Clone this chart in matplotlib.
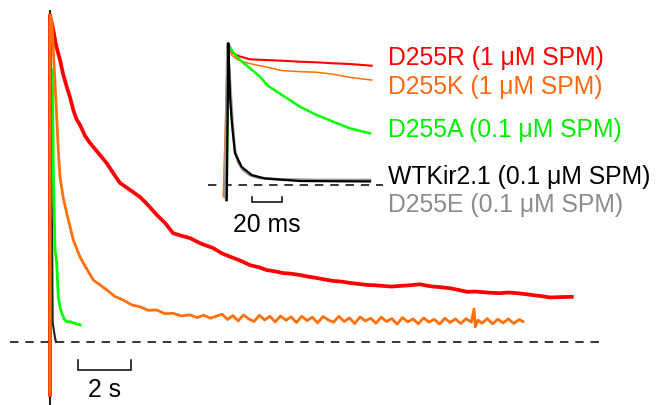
import matplotlib
matplotlib.use("Agg")
import matplotlib.pyplot as plt

plt.rcParams['font.family'] = ['Liberation Sans', 'DejaVu Sans']

# ---------------- main panel data (time in s, normalized current) ----------------
red_t = [0.0, 0.0, 0.125, 0.226, 0.377, 0.50, 0.63, 0.76, 0.88, 1.0, 1.13, 1.32, 1.51, 1.80, 2.14, 2.40,
         2.64, 3.0, 3.40, 3.70, 4.03, 4.35, 4.64, 4.95, 5.28, 5.70, 6.15, 6.50, 6.91, 7.20, 7.55, 7.90,
         8.18, 8.50, 8.79, 9.10, 9.43, 9.75, 10.06, 10.40, 10.68, 11.0, 11.32, 11.65, 11.96, 12.25,
         12.57, 12.90, 13.21, 13.60, 13.96, 14.20, 14.45, 14.75, 15.09, 15.40, 15.74, 16.05, 16.34,
         16.65, 16.98, 17.30, 17.62, 17.95, 18.23, 18.55, 18.87, 19.25, 19.69]
red_i = [-0.16, 0.991, 0.945, 0.90, 0.855, 0.81, 0.774, 0.74, 0.703, 0.675, 0.658, 0.625, 0.603, 0.575,
         0.542, 0.51, 0.482, 0.462, 0.439, 0.415, 0.385, 0.36, 0.330, 0.322, 0.315, 0.298, 0.285, 0.268,
         0.255, 0.246, 0.233, 0.226, 0.218, 0.214, 0.209, 0.207, 0.203, 0.198, 0.194, 0.189, 0.185,
         0.183, 0.179, 0.176, 0.173, 0.172, 0.170, 0.168, 0.170, 0.172, 0.175, 0.171, 0.168, 0.166,
         0.163, 0.158, 0.152, 0.153, 0.151, 0.149, 0.148, 0.150, 0.148, 0.145, 0.142, 0.139, 0.135,
         0.136, 0.137]

orange_t = [0.0, 0.0, 0.064, 0.125, 0.189, 0.253, 0.313, 0.377, 0.502, 0.63, 0.879, 1.132, 1.257,
            1.634, 2.14, 2.45, 2.766, 3.1, 3.396, 3.7, 4.026, 4.33, 4.642, 4.95, 5.283, 5.55, 5.8,
            6.05, 6.3,
            6.5, 6.7, 6.9, 7.1, 7.3, 7.5, 7.7, 7.9, 8.1, 8.3, 8.5, 8.7, 8.9, 9.1, 9.3, 9.5, 9.7, 9.9,
            10.1, 10.3, 10.5, 10.7, 10.9, 11.1, 11.3, 11.5, 11.7, 11.9, 12.1, 12.3, 12.5, 12.7, 12.9,
            13.1, 13.3, 13.5, 13.7, 13.9, 14.1, 14.3, 14.5, 14.7, 14.9, 15.1, 15.3, 15.5, 15.7, 15.9,
            16.0, 16.05, 16.15, 16.3, 16.5, 16.7, 16.9, 17.1, 17.3, 17.5, 17.7, 17.85]
orange_i = [-0.16, 0.991, 0.976, 0.885, 0.785, 0.682, 0.582, 0.50, 0.436, 0.391, 0.309, 0.258, 0.239,
            0.188, 0.158, 0.138, 0.127, 0.112, 0.107, 0.096, 0.097, 0.086, 0.087, 0.079, 0.082, 0.074,
            0.081, 0.072, 0.079,
            0.084, 0.068, 0.080, 0.064, 0.082, 0.070, 0.062, 0.081, 0.067, 0.078, 0.061, 0.079, 0.066,
            0.076, 0.059, 0.078, 0.065, 0.075, 0.058, 0.077, 0.067, 0.060, 0.078, 0.062, 0.073, 0.056,
            0.076, 0.064, 0.072, 0.057, 0.075, 0.062, 0.071, 0.054, 0.074, 0.061, 0.070, 0.055, 0.073,
            0.060, 0.069, 0.054, 0.072, 0.059, 0.070, 0.056, 0.071, 0.060,
            0.100, 0.046, 0.066, 0.057, 0.071, 0.055, 0.069, 0.058, 0.070, 0.056, 0.068, 0.062]

green_t = [0.087, 0.106, 0.125, 0.162, 0.189, 0.253, 0.313, 0.38, 0.442, 0.53, 0.63, 0.75, 0.879, 1.0, 1.132]
green_i = [0.824, 0.673, 0.521, 0.379, 0.279, 0.239, 0.136, 0.105, 0.088, 0.070, 0.061, 0.062, 0.058,
           0.055, 0.052]

black_t = [0.0, 0.0, 0.08, 0.10, 0.19, 0.23]
black_i = [-0.19, 1.006, 0.30, 0.06, 0.012, 0.0]

# ---------------- inset data (time in ms, normalized current) ----------------
in_red_t = [-0.7, 0.5, 4.2, 8.7, 15.3, 26.5, 37.3, 48.7, 59.8, 70.7, 82.0, 96.5]
in_red_i = [-0.106, 1.0, 0.927, 0.905, 0.885, 0.880, 0.875, 0.868, 0.864, 0.857, 0.852, 0.840]

in_orange_t = [-2.5, 0.47, 3.1, 7.5, 14.2, 25.3, 36.5, 48.7, 59.8, 70.7, 82.0, 96.5]
in_orange_i = [-0.082, 0.993, 0.915, 0.880, 0.857, 0.833, 0.806, 0.798, 0.794, 0.780, 0.758, 0.739]

in_green_t = [-0.2, 0.9, 4.0, 8.7, 15.3, 22.0, 26.7, 33.3, 40.0, 48.7, 59.8, 70.7, 82.0, 95.3]
in_green_i = [-0.106, 0.986, 0.937, 0.880, 0.822, 0.763, 0.704, 0.657, 0.611, 0.551, 0.493, 0.446,
              0.399, 0.364]

in_gray_t = [-1.3, 0.3, 2.3, 4.0, 5.3, 7.3, 10.7, 15.3, 22.0, 35.3, 62.0, 95.3]
in_gray_i = [-0.085, 0.993, 0.669, 0.387, 0.246, 0.162, 0.106, 0.070, 0.049, 0.039, 0.035, 0.035]

in_black_t = [-0.2, 0.9, 2.0, 3.1, 4.2, 5.3, 9.8, 16.5, 25.3, 48.7, 95.3]
in_black_i = [-0.106, 0.998, 0.621, 0.458, 0.338, 0.225, 0.127, 0.070, 0.046, 0.028, 0.025]

labels = ["D255R (1 \u03bcM SPM)", "D255K (1 \u03bcM SPM)", "D255A (0.1 \u03bcM SPM)",
          "WTKir2.1 (0.1 \u03bcM SPM)", "D255E (0.1 \u03bcM SPM)"]
label_colors = ["#ff0000", "#ff6a10", "#00ee00", "#000000", "#8c8c8c"]

main_bar_len = 2.0     # s
inset_bar_len = 20.0   # ms

RED, ORANGE, GREEN, GRAY = "#ff0000", "#ff700a", "#00ff00", "#999999"

W, H = 665, 405
fig = plt.figure(figsize=(W / 100, H / 100), dpi=100)

# main axes spans the whole figure
ax = fig.add_axes([0, 0, 1, 1])
ax.set_xlim(-50 / 26.5, 615 / 26.5)
ax.set_ylim(-63 / 330, 342 / 330)
ax.axis('off')

ax.plot([-1.51, 20.87], [0, 0], color='black', lw=1.1, dashes=(5.5, 4.5))
ax.plot(black_t, black_i, color='#222222', lw=1.5, solid_joinstyle='miter')
ax.plot(green_t, green_i, color=GREEN, lw=2.0)
ax.plot(red_t, red_i, color=RED, lw=2.7)
ax.plot(orange_t, orange_i, color=ORANGE, lw=2.0)

# 2 s scale bar
x0 = 1.045
ax.plot([x0, x0, x0 + main_bar_len, x0 + main_bar_len], [-0.0545, -0.085, -0.085, -0.0545],
        color='black', lw=1.1, solid_joinstyle='miter')
ax.text(x0 + main_bar_len / 2, -0.145, "2 s", ha='center', va='center', fontsize=17.8)

# inset axes
L, B, R, T = 200, 215, 390, 30
axi = fig.add_axes([L / W, 1 - B / H, (R - L) / W, (B - T) / H])
axi.set_xlim((L - 227) / 1.5, (R - 227) / 1.5)
axi.set_ylim((185 - B) / 142, (185 - T) / 142)
axi.axis('off')
axi.patch.set_alpha(0)

axi.plot([-12.7, 104], [0, 0], color='black', lw=1.1, dashes=(5.5, 4.5))
axi.plot(in_orange_t, in_orange_i, color=ORANGE, lw=1.1)
axi.plot(in_red_t, in_red_i, color=RED, lw=1.5)
axi.plot(in_green_t, in_green_i, color=GREEN, lw=1.8)
axi.plot(in_gray_t, in_gray_i, color=GRAY, lw=2.0)
axi.plot(in_black_t, in_black_i, color='black', lw=1.6)

xb = 16.5
axi.plot([xb, xb, xb + inset_bar_len, xb + inset_bar_len], [-0.081, -0.12, -0.12, -0.081],
         color='black', lw=1.1, solid_joinstyle='miter')
axi.text(xb + inset_bar_len / 2, -0.282, "20 ms", ha='center', va='center', fontsize=17.8)

label_y = [58, 87, 130, 177, 205]
for lab, col, yy in zip(labels, label_colors, label_y):
    fig.text(388 / W, 1 - yy / H, lab, color=col, ha='left', va='center', fontsize=17.8)

fig.savefig("out.png", dpi=100)
